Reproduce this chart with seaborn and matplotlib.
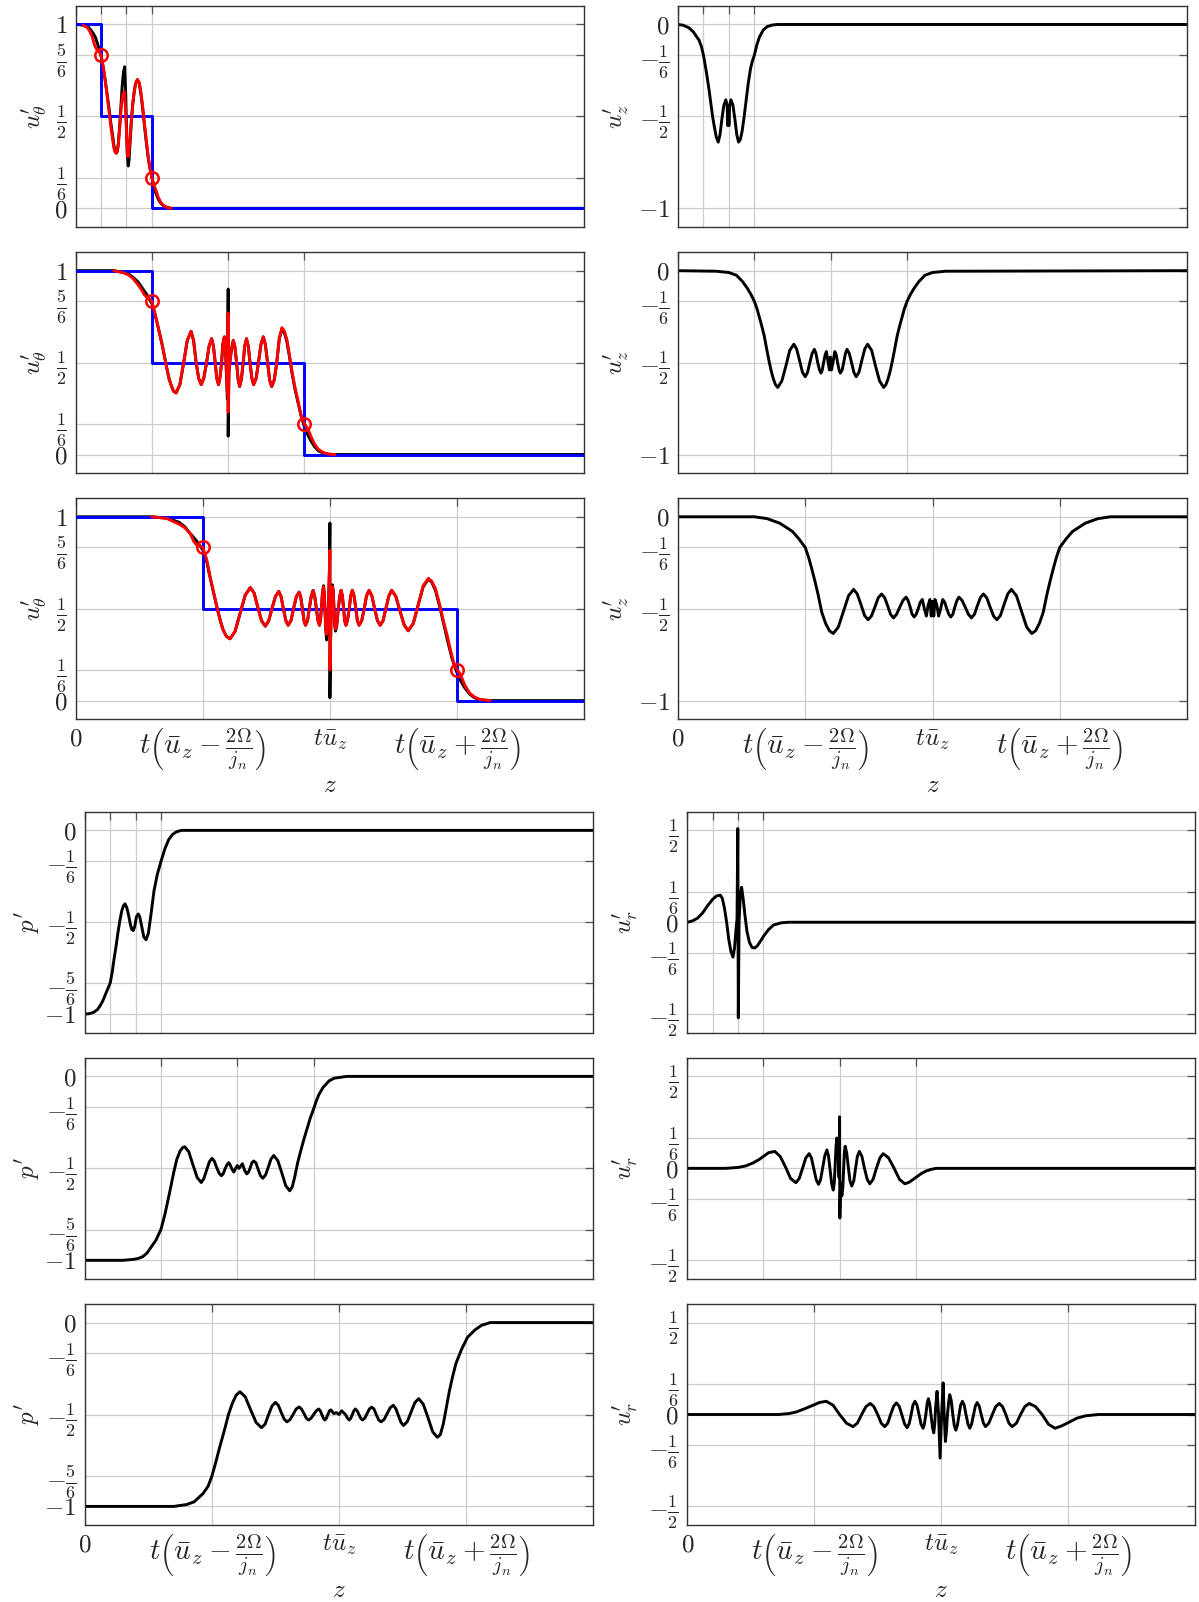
import matplotlib
matplotlib.use("Agg")
import matplotlib.pyplot as plt
import seaborn as sns

# z axis in units where u_bar = 2 and 2*Omega/j_n = 1
U_BAR = 2.0
C = 1.0
TIMES = [1, 3, 5]
Z_MAX = 20

# ---------------- u_theta : (z, value) ----------------
uth1_black = [(0, 1), (0.2, 0.998), (0.35, 0.993), (0.5, 0.985), (0.6, 0.97), (0.7, 0.95), (0.78, 0.93),
              (0.85, 0.9), (0.92, 0.87), (1.0, 0.83), (1.08, 0.77), (1.15, 0.71), (1.22, 0.64), (1.3, 0.56),
              (1.37, 0.48), (1.45, 0.40), (1.52, 0.33), (1.56, 0.31), (1.6, 0.30), (1.64, 0.31), (1.68, 0.35),
              (1.73, 0.44), (1.78, 0.55), (1.83, 0.66), (1.88, 0.74), (1.93, 0.77), (1.97, 0.62), (2.0, 0.45),
              (2.03, 0.30), (2.07, 0.23), (2.1, 0.26), (2.14, 0.35), (2.2, 0.49), (2.25, 0.57), (2.3, 0.63),
              (2.36, 0.68), (2.43, 0.70), (2.5, 0.68), (2.57, 0.62), (2.64, 0.54), (2.7, 0.46), (2.78, 0.36),
              (2.85, 0.28), (2.92, 0.22), (3.0, 0.167), (3.08, 0.12), (3.15, 0.085), (3.25, 0.05),
              (3.35, 0.027), (3.5, 0.01), (3.65, 0.003), (3.8, 0), (20, 0)]
uth1_red = [(0.3, 0.995), (0.45, 0.985), (0.55, 0.965), (0.65, 0.935), (0.72, 0.9), (0.78, 0.875),
            (0.85, 0.862), (0.92, 0.852), (1.0, 0.833), (1.05, 0.8), (1.1, 0.76), (1.18, 0.68), (1.25, 0.6),
            (1.33, 0.51), (1.4, 0.43), (1.46, 0.37), (1.52, 0.32), (1.56, 0.305), (1.6, 0.30), (1.64, 0.31),
            (1.68, 0.35), (1.74, 0.45), (1.8, 0.56), (1.86, 0.62), (1.92, 0.635), (1.96, 0.55), (2.0, 0.42),
            (2.03, 0.32), (2.06, 0.28), (2.1, 0.31), (2.15, 0.40), (2.2, 0.49), (2.25, 0.57), (2.3, 0.63),
            (2.36, 0.68), (2.43, 0.70), (2.5, 0.685), (2.57, 0.63), (2.64, 0.55), (2.7, 0.47), (2.78, 0.37),
            (2.85, 0.29), (2.92, 0.22), (3.0, 0.167), (3.05, 0.14), (3.1, 0.12), (3.18, 0.09), (3.25, 0.06),
            (3.35, 0.032), (3.45, 0.015), (3.6, 0.004), (3.75, 0)]

uth2_black = [(0, 1), (1.5, 1.0), (1.9, 0.99), (2.1, 0.98), (2.25, 0.965), (2.45, 0.94), (2.6, 0.91),
              (2.8, 0.87), (3.0, 0.82), (3.1, 0.775), (3.2, 0.72), (3.3, 0.66), (3.4, 0.6), (3.5, 0.53),
              (3.6, 0.46), (3.68, 0.41), (3.75, 0.38), (3.85, 0.345), (3.95, 0.335), (4.1, 0.38), (4.25, 0.5),
              (4.39, 0.62), (4.54, 0.67), (4.64, 0.62), (4.74, 0.5), (4.84, 0.415), (4.94, 0.38), (5.04, 0.415),
              (5.15, 0.5), (5.25, 0.59), (5.35, 0.63), (5.42, 0.59), (5.49, 0.5), (5.55, 0.415), (5.62, 0.38),
              (5.68, 0.42), (5.74, 0.5), (5.79, 0.6), (5.85, 0.64), (5.89, 0.58), (5.93, 0.45), (5.97, 0.30),
              (6.0, 0.9), (6.0, 0.1), (6.03, 0.45), (6.08, 0.52), (6.14, 0.58), (6.2, 0.62), (6.26, 0.59),
              (6.33, 0.5), (6.39, 0.41), (6.45, 0.37), (6.52, 0.41), (6.59, 0.5), (6.65, 0.59), (6.72, 0.63),
              (6.79, 0.59), (6.86, 0.5), (6.93, 0.415), (7.0, 0.38), (7.1, 0.415), (7.19, 0.5), (7.29, 0.6),
              (7.38, 0.64), (7.46, 0.6), (7.55, 0.5), (7.63, 0.405), (7.71, 0.37), (7.81, 0.405), (7.91, 0.5),
              (8.01, 0.63), (8.11, 0.68), (8.2, 0.665), (8.3, 0.62), (8.4, 0.54), (8.5, 0.45), (8.62, 0.36),
              (8.75, 0.28), (8.87, 0.21), (9.0, 0.15), (9.12, 0.11), (9.25, 0.075), (9.4, 0.042),
              (9.55, 0.02), (9.75, 0.007), (10.0, 0), (20, 0)]
uth2_red = [(1.5, 1.0), (1.9, 0.988), (2.1, 0.975), (2.25, 0.958), (2.45, 0.925), (2.6, 0.895), (2.7, 0.87),
            (2.8, 0.855), (2.9, 0.848), (3.0, 0.833), (3.1, 0.78), (3.2, 0.72), (3.3, 0.66), (3.4, 0.6),
            (3.5, 0.53), (3.6, 0.46), (3.68, 0.41), (3.75, 0.38), (3.85, 0.345), (3.95, 0.335), (4.1, 0.38),
            (4.25, 0.5), (4.39, 0.62), (4.54, 0.67), (4.64, 0.62), (4.74, 0.5), (4.84, 0.415), (4.94, 0.38),
            (5.04, 0.415), (5.15, 0.5), (5.25, 0.59), (5.35, 0.63), (5.42, 0.59), (5.49, 0.5), (5.55, 0.415),
            (5.62, 0.38), (5.68, 0.42), (5.74, 0.5), (5.79, 0.6), (5.85, 0.64), (5.89, 0.58), (5.93, 0.45),
            (5.97, 0.33), (6.0, 0.77), (6.0, 0.23), (6.03, 0.45), (6.08, 0.52), (6.14, 0.58), (6.2, 0.62),
            (6.26, 0.59), (6.33, 0.5), (6.39, 0.41), (6.45, 0.37), (6.52, 0.41), (6.59, 0.5), (6.65, 0.59),
            (6.72, 0.63), (6.79, 0.59), (6.86, 0.5), (6.93, 0.415), (7.0, 0.38), (7.1, 0.415), (7.19, 0.5),
            (7.29, 0.6), (7.38, 0.64), (7.46, 0.6), (7.55, 0.5), (7.63, 0.405), (7.71, 0.37), (7.81, 0.405),
            (7.91, 0.5), (8.01, 0.63), (8.11, 0.69), (8.2, 0.675), (8.3, 0.63), (8.4, 0.55), (8.5, 0.46),
            (8.62, 0.37), (8.75, 0.29), (8.87, 0.21), (9.0, 0.167), (9.08, 0.15), (9.15, 0.135), (9.25, 0.1),
            (9.4, 0.055), (9.55, 0.028), (9.75, 0.01), (10.0, 0.002), (10.2, 0)]

uth3_black = [(0, 1), (3.0, 1.0), (3.6, 0.993), (4.07, 0.97), (4.3, 0.945), (4.5, 0.91), (4.75, 0.87),
              (5.0, 0.82), (5.15, 0.76), (5.28, 0.675), (5.43, 0.585), (5.58, 0.495), (5.7, 0.43), (5.8, 0.385),
              (5.93, 0.35), (6.07, 0.336), (6.27, 0.376), (6.47, 0.475), (6.67, 0.574), (6.87, 0.615),
              (7.02, 0.585), (7.16, 0.51), (7.31, 0.435), (7.46, 0.405), (7.59, 0.433), (7.72, 0.5),
              (7.86, 0.567), (7.99, 0.594), (8.08, 0.566), (8.17, 0.5), (8.27, 0.435), (8.36, 0.41),
              (8.47, 0.435), (8.57, 0.5), (8.68, 0.565), (8.79, 0.59), (8.85, 0.565), (8.92, 0.5),
              (8.98, 0.435), (9.04, 0.41), (9.12, 0.435), (9.19, 0.5), (9.27, 0.57), (9.34, 0.6), (9.4, 0.57),
              (9.47, 0.5), (9.53, 0.435), (9.59, 0.41), (9.63, 0.44), (9.67, 0.51), (9.71, 0.59),
              (9.75, 0.625), (9.78, 0.58), (9.81, 0.48), (9.84, 0.38), (9.87, 0.33), (9.94, 0.5), (9.98, 0.7),
              (10.0, 0.966), (10.0, 0.016), (10.03, 0.35), (10.07, 0.6), (10.1, 0.63), (10.13, 0.6),
              (10.16, 0.5), (10.19, 0.41), (10.22, 0.378), (10.27, 0.41), (10.33, 0.5), (10.39, 0.57),
              (10.44, 0.6), (10.49, 0.57), (10.54, 0.5), (10.58, 0.435), (10.63, 0.41), (10.69, 0.435),
              (10.76, 0.5), (10.82, 0.57), (10.88, 0.6), (10.95, 0.57), (11.02, 0.5), (11.08, 0.435),
              (11.15, 0.41), (11.25, 0.435), (11.35, 0.5), (11.44, 0.57), (11.54, 0.6), (11.65, 0.57),
              (11.76, 0.5), (11.87, 0.435), (11.98, 0.41), (12.09, 0.435), (12.2, 0.5), (12.32, 0.57),
              (12.43, 0.6), (12.59, 0.568), (12.75, 0.49), (12.92, 0.412), (13.08, 0.38), (13.28, 0.42),
              (13.47, 0.52), (13.67, 0.62), (13.87, 0.66), (14.0, 0.645), (14.15, 0.6), (14.32, 0.51),
              (14.47, 0.42), (14.62, 0.33), (14.8, 0.23), (15.0, 0.15), (15.15, 0.105), (15.3, 0.07),
              (15.5, 0.035), (15.68, 0.016), (15.9, 0.005), (16.3, 0), (20, 0)]
uth3_red = [(3.0, 1.0), (3.6, 0.99), (4.07, 0.96), (4.3, 0.94), (4.52, 0.906), (4.65, 0.865), (4.75, 0.848),
            (4.88, 0.842), (5.0, 0.833), (5.15, 0.77), (5.28, 0.68), (5.43, 0.585), (5.58, 0.495), (5.7, 0.43),
            (5.8, 0.385), (5.93, 0.35), (6.07, 0.336), (6.27, 0.376), (6.47, 0.475), (6.67, 0.574),
            (6.87, 0.615), (7.02, 0.585), (7.16, 0.51), (7.31, 0.435), (7.46, 0.405), (7.59, 0.433),
            (7.72, 0.5), (7.86, 0.567), (7.99, 0.594), (8.08, 0.566), (8.17, 0.5), (8.27, 0.435),
            (8.36, 0.41), (8.47, 0.435), (8.57, 0.5), (8.68, 0.565), (8.79, 0.59), (8.85, 0.565), (8.92, 0.5),
            (8.98, 0.435), (9.04, 0.41), (9.12, 0.435), (9.19, 0.5), (9.27, 0.57), (9.34, 0.6), (9.4, 0.57),
            (9.47, 0.5), (9.53, 0.435), (9.59, 0.41), (9.63, 0.44), (9.67, 0.51), (9.71, 0.59), (9.75, 0.62),
            (9.78, 0.58), (9.81, 0.48), (9.84, 0.39), (9.87, 0.36), (9.94, 0.5), (9.98, 0.7), (10.0, 0.817),
            (10.0, 0.167), (10.03, 0.35), (10.07, 0.6), (10.1, 0.62), (10.13, 0.6), (10.16, 0.5),
            (10.19, 0.41), (10.22, 0.39), (10.27, 0.41), (10.33, 0.5), (10.39, 0.57), (10.44, 0.6),
            (10.49, 0.57), (10.54, 0.5), (10.58, 0.435), (10.63, 0.41), (10.69, 0.435), (10.76, 0.5),
            (10.82, 0.57), (10.88, 0.6), (10.95, 0.57), (11.02, 0.5), (11.08, 0.435), (11.15, 0.41),
            (11.25, 0.435), (11.35, 0.5), (11.44, 0.57), (11.54, 0.6), (11.65, 0.57), (11.76, 0.5),
            (11.87, 0.435), (11.98, 0.41), (12.09, 0.435), (12.2, 0.5), (12.32, 0.57), (12.43, 0.6),
            (12.59, 0.568), (12.75, 0.49), (12.92, 0.412), (13.08, 0.38), (13.28, 0.42), (13.47, 0.52),
            (13.67, 0.625), (13.87, 0.665), (14.0, 0.65), (14.15, 0.61), (14.32, 0.52), (14.47, 0.43),
            (14.62, 0.35), (14.75, 0.27), (14.88, 0.2), (15.0, 0.167), (15.1, 0.15), (15.2, 0.12),
            (15.3, 0.085), (15.5, 0.04), (15.68, 0.02), (15.9, 0.006), (16.3, 0)]

# ---------------- u_z ----------------
uz1 = [(0, 0), (0.2, -0.004), (0.43, -0.018), (0.6, -0.04), (0.83, -0.086), (0.92, -0.12), (1.0, -0.167),
       (1.08, -0.23), (1.15, -0.29), (1.22, -0.355), (1.3, -0.44), (1.37, -0.51), (1.42, -0.55),
       (1.5, -0.61), (1.58, -0.64), (1.65, -0.6), (1.72, -0.52), (1.8, -0.44), (1.88, -0.41),
       (1.93, -0.44), (1.96, -0.55), (1.98, -0.44), (2.0, -0.55), (2.03, -0.44), (2.08, -0.41),
       (2.16, -0.44), (2.24, -0.52), (2.31, -0.6), (2.38, -0.64), (2.45, -0.625), (2.52, -0.58),
       (2.6, -0.5), (2.68, -0.41), (2.76, -0.32), (2.85, -0.24), (2.92, -0.2), (3.0, -0.167),
       (3.1, -0.11), (3.2, -0.068), (3.35, -0.03), (3.5, -0.012), (3.7, -0.003), (3.9, 0), (20, 0)]

uz2 = [(0, 0), (1.5, -0.003), (2.0, -0.01), (2.3, -0.025), (2.54, -0.06), (2.72, -0.095), (2.87, -0.13),
       (3.0, -0.167), (3.1, -0.205), (3.19, -0.25), (3.29, -0.3), (3.39, -0.356), (3.49, -0.43),
       (3.59, -0.5), (3.67, -0.55), (3.75, -0.59), (3.83, -0.62), (3.92, -0.635), (4.08, -0.6),
       (4.24, -0.518), (4.39, -0.434), (4.55, -0.40), (4.66, -0.425), (4.78, -0.49), (4.89, -0.553),
       (5.0, -0.577), (5.09, -0.553), (5.18, -0.5), (5.27, -0.45), (5.36, -0.428), (5.42, -0.45),
       (5.49, -0.5), (5.56, -0.54), (5.62, -0.557), (5.67, -0.54), (5.72, -0.5), (5.78, -0.46),
       (5.83, -0.44), (5.89, -0.49), (5.95, -0.54), (5.99, -0.47), (6.03, -0.54), (6.1, -0.49),
       (6.16, -0.44), (6.22, -0.46), (6.27, -0.5), (6.33, -0.54), (6.38, -0.557), (6.45, -0.54),
       (6.51, -0.5), (6.58, -0.45), (6.64, -0.428), (6.73, -0.45), (6.82, -0.5), (6.91, -0.553),
       (7.0, -0.577), (7.11, -0.553), (7.22, -0.49), (7.34, -0.425), (7.45, -0.40), (7.61, -0.434),
       (7.76, -0.518), (7.92, -0.6), (8.08, -0.635), (8.17, -0.62), (8.25, -0.59), (8.33, -0.55),
       (8.41, -0.5), (8.51, -0.43), (8.61, -0.356), (8.71, -0.3), (8.81, -0.25), (8.9, -0.205),
       (9.0, -0.167), (9.13, -0.13), (9.28, -0.095), (9.46, -0.06), (9.7, -0.025), (10.0, -0.01),
       (10.5, -0.003), (20, 0)]

uz3 = [(0, 0), (3.0, 0), (3.5, -0.01), (4.0, -0.035), (4.5, -0.08), (4.75, -0.12), (5.0, -0.167),
       (5.13, -0.22), (5.25, -0.28), (5.38, -0.35), (5.5, -0.42), (5.65, -0.52), (5.8, -0.58),
       (5.95, -0.62), (6.1, -0.635), (6.3, -0.6), (6.5, -0.515), (6.7, -0.43), (6.9, -0.395),
       (7.04, -0.419), (7.19, -0.478), (7.33, -0.537), (7.47, -0.56), (7.6, -0.54), (7.74, -0.49),
       (7.87, -0.44), (8.0, -0.42), (8.12, -0.44), (8.24, -0.485), (8.35, -0.53), (8.47, -0.55),
       (8.59, -0.53), (8.72, -0.49), (8.84, -0.455), (8.96, -0.437), (9.04, -0.455), (9.12, -0.49),
       (9.2, -0.53), (9.28, -0.545), (9.36, -0.53), (9.44, -0.5), (9.52, -0.465), (9.6, -0.45),
       (9.68, -0.5), (9.76, -0.54), (9.83, -0.48), (9.9, -0.45), (9.95, -0.54), (10.0, -0.46),
       (10.05, -0.54), (10.1, -0.45), (10.17, -0.48), (10.24, -0.54), (10.32, -0.5), (10.4, -0.45),
       (10.48, -0.465), (10.56, -0.5), (10.64, -0.53), (10.72, -0.545), (10.8, -0.53), (10.88, -0.49),
       (10.96, -0.455), (11.04, -0.437), (11.16, -0.455), (11.28, -0.49), (11.41, -0.53), (11.53, -0.55),
       (11.65, -0.53), (11.76, -0.485), (11.88, -0.44), (12.0, -0.42), (12.13, -0.44), (12.26, -0.49),
       (12.4, -0.54), (12.53, -0.56), (12.67, -0.537), (12.81, -0.478), (12.96, -0.419), (13.1, -0.395),
       (13.3, -0.43), (13.5, -0.515), (13.7, -0.6), (13.9, -0.635), (14.05, -0.62), (14.2, -0.58),
       (14.35, -0.52), (14.5, -0.42), (14.62, -0.35), (14.75, -0.28), (14.87, -0.22), (15.0, -0.167),
       (15.25, -0.12), (15.5, -0.08), (16.0, -0.035), (16.5, -0.01), (17.0, 0), (20, 0)]

# ---------------- p' ----------------
p1 = [(0, -1), (0.2, -0.997), (0.35, -0.99), (0.5, -0.975), (0.6, -0.955), (0.7, -0.93), (0.85, -0.88),
      (1.0, -0.83), (1.08, -0.77), (1.15, -0.70), (1.23, -0.63), (1.3, -0.56), (1.38, -0.49),
      (1.45, -0.44), (1.52, -0.41), (1.58, -0.40), (1.65, -0.42), (1.72, -0.46), (1.79, -0.51),
      (1.85, -0.54), (1.91, -0.545), (1.97, -0.52), (2.03, -0.47), (2.1, -0.455), (2.16, -0.47),
      (2.22, -0.51), (2.32, -0.58), (2.41, -0.595), (2.5, -0.56), (2.6, -0.46), (2.72, -0.33),
      (2.85, -0.24), (3.0, -0.167), (3.15, -0.10), (3.3, -0.05), (3.45, -0.022), (3.6, -0.008),
      (3.8, 0), (20, 0)]

p2 = [(0, -1), (1.5, -1), (1.9, -0.995), (2.1, -0.99), (2.28, -0.98), (2.45, -0.96), (2.6, -0.93),
      (2.8, -0.89), (3.0, -0.83), (3.15, -0.75), (3.33, -0.635), (3.5, -0.52), (3.62, -0.45),
      (3.75, -0.405), (3.85, -0.387), (3.93, -0.383), (4.09, -0.41), (4.25, -0.48), (4.42, -0.55),
      (4.58, -0.577), (4.68, -0.556), (4.79, -0.51), (4.9, -0.464), (5.0, -0.446), (5.09, -0.46),
      (5.18, -0.493), (5.28, -0.526), (5.37, -0.54), (5.44, -0.53), (5.51, -0.505), (5.59, -0.48),
      (5.66, -0.469), (5.71, -0.48), (5.76, -0.495), (5.81, -0.51), (5.86, -0.52), (5.93, -0.5),
      (6.0, -0.485), (6.06, -0.5), (6.12, -0.49), (6.2, -0.475), (6.28, -0.51), (6.37, -0.53),
      (6.44, -0.52), (6.51, -0.495), (6.57, -0.47), (6.64, -0.46), (6.73, -0.47), (6.82, -0.507),
      (6.91, -0.54), (7.0, -0.554), (7.11, -0.535), (7.22, -0.492), (7.32, -0.45), (7.43, -0.43),
      (7.59, -0.458), (7.75, -0.526), (7.9, -0.594), (8.06, -0.622), (8.16, -0.6), (8.25, -0.55),
      (8.37, -0.47), (8.5, -0.40), (8.62, -0.34), (8.75, -0.28), (8.87, -0.225), (9.0, -0.176),
      (9.1, -0.135), (9.2, -0.1), (9.37, -0.06), (9.6, -0.025), (9.8, -0.01), (10.3, 0), (20, 0)]

p3 = [(0, -1), (3.5, -1), (4.0, -0.99), (4.3, -0.975), (4.65, -0.93), (4.85, -0.89), (5.0, -0.834),
      (5.15, -0.76), (5.3, -0.68), (5.5, -0.58), (5.65, -0.5), (5.8, -0.44), (5.95, -0.395), (6.1, -0.376),
      (6.31, -0.404), (6.52, -0.474), (6.74, -0.544), (6.95, -0.572), (7.09, -0.552), (7.22, -0.503),
      (7.36, -0.454), (7.5, -0.434), (7.61, -0.45), (7.72, -0.487), (7.84, -0.525), (7.95, -0.54),
      (8.07, -0.528), (8.19, -0.5), (8.31, -0.47), (8.43, -0.459), (8.52, -0.47), (8.62, -0.495),
      (8.71, -0.52), (8.8, -0.53), (8.9, -0.52), (9.0, -0.5), (9.1, -0.48), (9.2, -0.47), (9.26, -0.48),
      (9.32, -0.5), (9.38, -0.52), (9.44, -0.53), (9.5, -0.52), (9.56, -0.5), (9.62, -0.48),
      (9.68, -0.475), (9.79, -0.495), (9.9, -0.49), (10.0, -0.5), (10.1, -0.48), (10.25, -0.5),
      (10.33, -0.52), (10.4, -0.53), (10.46, -0.52), (10.52, -0.5), (10.58, -0.48), (10.64, -0.47),
      (10.71, -0.48), (10.78, -0.5), (10.85, -0.52), (10.92, -0.53), (11.01, -0.52), (11.1, -0.495),
      (11.19, -0.47), (11.28, -0.46), (11.37, -0.47), (11.46, -0.5), (11.56, -0.53), (11.65, -0.54),
      (11.77, -0.527), (11.89, -0.495), (12.01, -0.463), (12.13, -0.45), (12.23, -0.468), (12.33, -0.505),
      (12.43, -0.542), (12.53, -0.56), (12.68, -0.539), (12.83, -0.487), (12.98, -0.435), (13.13, -0.414),
      (13.31, -0.444), (13.5, -0.519), (13.68, -0.594), (13.86, -0.624), (13.98, -0.61), (14.1, -0.55),
      (14.22, -0.46), (14.34, -0.37), (14.47, -0.29), (14.6, -0.22), (14.82, -0.144), (15.05, -0.08),
      (15.34, -0.04), (15.6, -0.015), (15.94, 0), (20, 0)]

# ---------------- u_r ----------------
ur1 = [(0, 0), (0.2, 0.007), (0.4, 0.022), (0.6, 0.05), (0.8, 0.09), (1.0, 0.125), (1.15, 0.143),
       (1.3, 0.147), (1.38, 0.13), (1.46, 0.08), (1.55, 0.0), (1.63, -0.09), (1.72, -0.16), (1.8, -0.19),
       (1.86, -0.14), (1.92, -0.04), (1.96, 0.02), (1.99, 0.51), (2.01, -0.52), (2.04, 0.0), (2.09, 0.15),
       (2.14, 0.19), (2.2, 0.13), (2.27, 0.04), (2.35, -0.05), (2.45, -0.11), (2.55, -0.137), (2.65, -0.14),
       (2.75, -0.13), (2.85, -0.11), (3.0, -0.077), (3.2, -0.04), (3.4, -0.015), (3.7, -0.003), (4.0, 0),
       (20, 0)]

ur2 = [(0, 0), (1.5, 0), (2.0, 0.005), (2.3, 0.013), (2.6, 0.03), (2.85, 0.05), (3.0, 0.065), (3.2, 0.085),
       (3.45, 0.092), (3.66, 0.065), (3.87, 0.007), (4.07, -0.055), (4.28, -0.078), (4.41, -0.055),
       (4.54, 0.0), (4.67, 0.057), (4.8, 0.08), (4.89, 0.057), (4.98, 0.0), (5.08, -0.062), (5.17, -0.087),
       (5.25, -0.062), (5.33, 0.0), (5.42, 0.07), (5.5, 0.1), (5.56, 0.07), (5.62, 0.0), (5.69, -0.085),
       (5.75, -0.118), (5.79, -0.08), (5.82, 0.0), (5.86, 0.12), (5.89, 0.165), (5.94, 0.08), (5.98, -0.05),
       (6.0, 0.28), (6.01, -0.27), (6.04, -0.08), (6.09, -0.15), (6.13, -0.1), (6.16, 0.0), (6.19, 0.09),
       (6.22, 0.12), (6.28, 0.085), (6.35, 0.0), (6.41, -0.068), (6.48, -0.096), (6.56, -0.068),
       (6.63, 0.0), (6.7, 0.065), (6.78, 0.092), (6.88, 0.065), (6.98, 0.0), (7.09, -0.06), (7.19, -0.084),
       (7.32, -0.06), (7.45, 0.0), (7.59, 0.057), (7.72, 0.08), (7.93, 0.057), (8.15, 0.0), (8.36, -0.06),
       (8.57, -0.084), (8.75, -0.075), (9.0, -0.05), (9.2, -0.03), (9.4, -0.015), (9.6, -0.006), (9.8, 0),
       (20, 0)]

ur3 = [(0, 0), (3.6, 0), (4.0, 0.005), (4.3, 0.014), (4.6, 0.03), (4.95, 0.05), (5.2, 0.065), (5.47, 0.072),
       (5.74, 0.051), (6.0, 0.0), (6.27, -0.047), (6.53, -0.066), (6.7, -0.047), (6.87, 0.0), (7.04, 0.043),
       (7.21, 0.06), (7.35, 0.043), (7.5, 0.0), (7.64, -0.047), (7.78, -0.066), (7.9, -0.047), (8.01, 0.0),
       (8.13, 0.045), (8.24, 0.063), (8.35, 0.045), (8.45, 0.0), (8.56, -0.051), (8.66, -0.072),
       (8.74, -0.051), (8.82, 0.0), (8.89, 0.051), (8.97, 0.072), (9.05, 0.051), (9.13, 0.0), (9.21, -0.053),
       (9.29, -0.075), (9.34, -0.053), (9.4, 0.0), (9.45, 0.06), (9.5, 0.086), (9.55, 0.06), (9.6, 0.0),
       (9.66, -0.07), (9.71, -0.1), (9.75, -0.05), (9.78, 0.03), (9.84, 0.126), (9.9, 0.0), (9.96, -0.237),
       (10.02, 0.0), (10.08, 0.172), (10.12, 0.0), (10.17, -0.147), (10.21, -0.09), (10.25, 0.0),
       (10.3, 0.07), (10.34, 0.108), (10.4, 0.076), (10.46, 0.0), (10.52, -0.06), (10.58, -0.085),
       (10.64, -0.06), (10.71, 0.0), (10.77, 0.051), (10.84, 0.072), (10.91, 0.051), (10.98, 0.0),
       (11.06, -0.053), (11.13, -0.075), (11.2, -0.053), (11.28, 0.0), (11.35, 0.046), (11.42, 0.065),
       (11.5, 0.046), (11.58, 0.0), (11.67, -0.047), (11.75, -0.066), (11.88, -0.047), (12.02, 0.0),
       (12.15, 0.043), (12.29, 0.06), (12.42, 0.043), (12.55, 0.0), (12.67, -0.047), (12.8, -0.066),
       (12.97, -0.047), (13.13, 0.0), (13.3, 0.043), (13.47, 0.06), (13.72, 0.043), (13.98, 0.0),
       (14.23, -0.053), (14.49, -0.075), (14.75, -0.062), (15.0, -0.045), (15.35, -0.02), (15.7, -0.007),
       (16.2, 0), (20, 0)]

# step (blue) levels of u_theta and marker levels
STEP_LEVELS = [1, 0.5, 0]
MARK_LEVELS = [5 / 6, 1 / 6]

# tick values and labels
UTH_TICKS = [0, 1 / 6, 1 / 2, 5 / 6, 1]
UTH_LABELS = [r"$0$", r"$\frac{1}{6}$", r"$\frac{1}{2}$", r"$\frac{5}{6}$", r"$1$"]
UZ_TICKS = [-1, -1 / 2, -1 / 6, 0]
UZ_LABELS = [r"$-1$", r"$-\frac{1}{2}$", r"$-\frac{1}{6}$", r"$0$"]
P_TICKS = [-1, -5 / 6, -1 / 2, -1 / 6, 0]
P_LABELS = [r"$-1$", r"$-\frac{5}{6}$", r"$-\frac{1}{2}$", r"$-\frac{1}{6}$", r"$0$"]
UR_TICKS = [-1 / 2, -1 / 6, 0, 1 / 6, 1 / 2]
UR_LABELS = [r"$-\frac{1}{2}$", r"$-\frac{1}{6}$", r"$0$", r"$\frac{1}{6}$", r"$\frac{1}{2}$"]
X_LABELS = [r"$0$", r"$t\left(\bar{u}_z-\frac{2\Omega}{j_n}\right)$", r"$t\bar{u}_z$",
            r"$t\left(\bar{u}_z+\frac{2\Omega}{j_n}\right)$"]

sns.set_theme(style="white")
plt.rcParams["mathtext.fontset"] = "cm"
plt.rcParams["font.family"] = ["DejaVu Serif"]

W, H = 1199, 1602
fig = plt.figure(figsize=(W / 100, H / 100), dpi=100)


def make_axes(x0, x1, y0, y1):
    return fig.add_axes([x0 / W, 1 - y1 / H, (x1 - x0) / W, (y1 - y0) / H])


def style(ax, t, ticks, labels, ylim, ylabel, label_x, show_x):
    ax.set_xlim(0, Z_MAX)
    ax.set_ylim(*ylim)
    ax.set_xticks([0, t * (U_BAR - C), t * U_BAR, t * (U_BAR + C)])
    if show_x:
        ax.set_xticklabels(X_LABELS)
        for i, lab in enumerate(ax.get_xticklabels()):
            lab.set_fontsize(18 if i in (0, 2) else 21)
        ax.set_xlabel(r"$z$", fontsize=18)
        ax.xaxis.set_label_coords(0.5, -0.3)
        ax.xaxis.label.set_va("center")
    else:
        ax.set_xticklabels([])
        ax.set_xlabel("")
    ax.set_yticks(ticks)
    ax.set_yticklabels(labels)
    for lab in ax.get_yticklabels():
        lab.set_fontsize(18.5 if "frac" in lab.get_text() else 18)
    ax.set_ylabel(ylabel, fontsize=18)
    ax.yaxis.set_label_coords(label_x, 0.5)
    ax.yaxis.label.set_va("center")
    ax.grid(True, color="#cccccc", lw=0.9)
    ax.set_axisbelow(True)
    ax.tick_params(direction="in", length=6, width=0.9, color="#555555",
                   top=True, right=True, pad=6)
    for s in ax.spines.values():
        s.set_color("#333333")
        s.set_linewidth(1.0)


def curve(ax, pts, color, zo=2):
    z, v = zip(*pts)
    sns.lineplot(x=list(z), y=list(v), ax=ax, color=color, lw=2.1, sort=False,
                 estimator=None, zorder=zo)


top_rows = [(6.1, 226.7), (252.3, 472.9), (498.4, 719.0)]
bot_rows = [(812.0, 1032.5), (1058.0, 1278.7), (1304.2, 1524.8)]

uth_black = [uth1_black, uth2_black, uth3_black]
uth_red = [uth1_red, uth2_red, uth3_red]
uz_data = [uz1, uz2, uz3]
p_data = [p1, p2, p3]
ur_data = [ur1, ur2, ur3]

for i, t in enumerate(TIMES):
    last = i == len(TIMES) - 1
    y0, y1 = top_rows[i]

    # u_theta with the step solution and the two marked points
    ax = make_axes(75.6, 584.2, y0, y1)
    curve(ax, uth_black[i], "black", 2)
    za, zb = t * (U_BAR - C), t * (U_BAR + C)
    step = [(0, STEP_LEVELS[0]), (za, STEP_LEVELS[0]), (za, STEP_LEVELS[1]), (zb, STEP_LEVELS[1]),
            (zb, STEP_LEVELS[2]), (Z_MAX, STEP_LEVELS[2])]
    curve(ax, step, "#0000ff", 3)
    curve(ax, uth_red[i], "#ff0000", 4)
    ax.plot([za, zb], MARK_LEVELS, "o", mfc="none", mec="#ff0000", ms=9, mew=1.8, zorder=5)
    style(ax, t, UTH_TICKS, UTH_LABELS, (-0.1, 1.1), r"$u^{\prime}_{\theta}$", -0.079, last)

    # u_z
    ax = make_axes(678.0, 1187.0, y0, y1)
    curve(ax, uz_data[i], "black")
    style(ax, t, UZ_TICKS, UZ_LABELS, (-1.1, 0.1), r"$u^{\prime}_{z}$", -0.12, last)

    y0, y1 = bot_rows[i]
    # p'
    ax = make_axes(84.8, 593.4, y0, y1)
    curve(ax, p_data[i], "black")
    style(ax, t, P_TICKS, P_LABELS, (-1.1, 0.1), r"$p^{\prime}$", -0.112, last)

    # u_r
    ax = make_axes(687.3, 1194.9, y0, y1)
    curve(ax, ur_data[i], "black")
    style(ax, t, UR_TICKS, UR_LABELS, (-0.6, 0.6), r"$u^{\prime}_{r}$", -0.121, last)

fig.savefig("out.png", dpi=100)
